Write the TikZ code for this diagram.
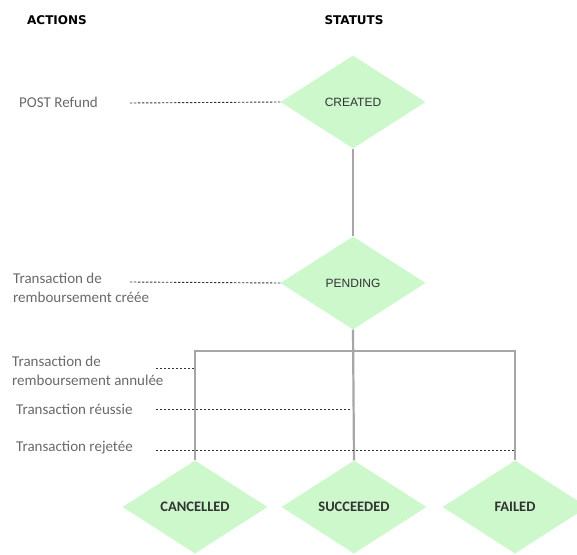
\documentclass[tikz,border=0pt]{standalone}
\usetikzlibrary{shapes.geometric}
\usepackage{fontspec}
\setmainfont{Carlito}
\newfontfamily\titrefont{DejaVu Sans}
\newfontfamily\etatfont{Liberation Sans}
\definecolor{vertclair}{RGB}{204,248,204}
\definecolor{gristrait}{RGB}{166,166,166}
\definecolor{gristexte}{RGB}{105,105,105}
\definecolor{noirtexte}{RGB}{51,51,51}

\begin{document}
\begin{tikzpicture}[x=1pt, y=-1pt,
		titre/.style={inner sep=0pt, font=\titrefont\bfseries\fontsize{12}{14}\selectfont},
		etat/.style={diamond, fill=vertclair, minimum width=145pt, minimum height=93pt, inner sep=0pt, text=noirtexte, font=\etatfont\fontsize{12}{14}\selectfont},
		etatbas/.style={etat, font=\bfseries\fontsize{14.5}{16}\selectfont},
		action/.style={anchor=west, align=left, inner sep=0pt, text=gristexte, font=\fontsize{15}{19}\selectfont},
		lien/.style={draw=gristrait, line width=2.2pt},
		pointille/.style={draw=black!80, line width=0.9pt, dash pattern=on 2.4pt off 1.6pt}]
		\useasboundingbox (0,0) rectangle (577,554);
		% en-tetes
		\node [titre, anchor=west](Actions) at (27,20) {ACTIONS};
		\node [titre](Statuts) at (354,20) {STATUTS};
		% statuts
		\node [etat](Created) at (353,102) {CREATED};
		\node [etat](Pending) at (353,283) {PENDING};
		\node [etatbas](Succeeded) at (354,507) {SUCCEEDED};
		\node [etatbas](Cancelled) at (195,507) {CANCELLED};
		\node [etatbas](Failed) at (515,507) {FAILED};
		% actions
		\node [action](PostRefund) at (19,102) {POST Refund};
		\node [action](Creee) at (13,288) {Transaction de\\remboursement créée};
		\node [action](Annulee) at (12,371) {Transaction de\\remboursement annulée};
		\node [action](Reussie) at (16,409) {Transaction réussie};
		\node [action](Rejetee) at (16,448) {Transaction rejetée};
		% arbre
		\coordinate (Barre) at (0,351);
		\draw [lien](Created)--(Pending);
		\draw [lien](Pending.south)--(Succeeded.north);
		\draw [lien](Cancelled.north)--(Cancelled.north |- Barre)--(Failed.north |- Barre)--(Failed.north);
		% pointilles
		\coordinate (DebRefund) at (130,103);
		\coordinate (DebCreee) at (130,282);
		\coordinate (DebAnnulee) at (156,368);
		\coordinate (DebReussie) at (156,409);
		\coordinate (DebRejetee) at (156,450);
		\draw [pointille](DebRefund)--(Created.west);
		\draw [pointille](DebCreee)--(Pending.west);
		\draw [pointille](DebAnnulee)--(Cancelled.north |- DebAnnulee);
		\draw [pointille](DebReussie)--([xshift=-2pt]Succeeded.north |- DebReussie);
		\draw [pointille](DebRejetee)--(Failed.north |- DebRejetee);
	\end{tikzpicture}
\end{document}
